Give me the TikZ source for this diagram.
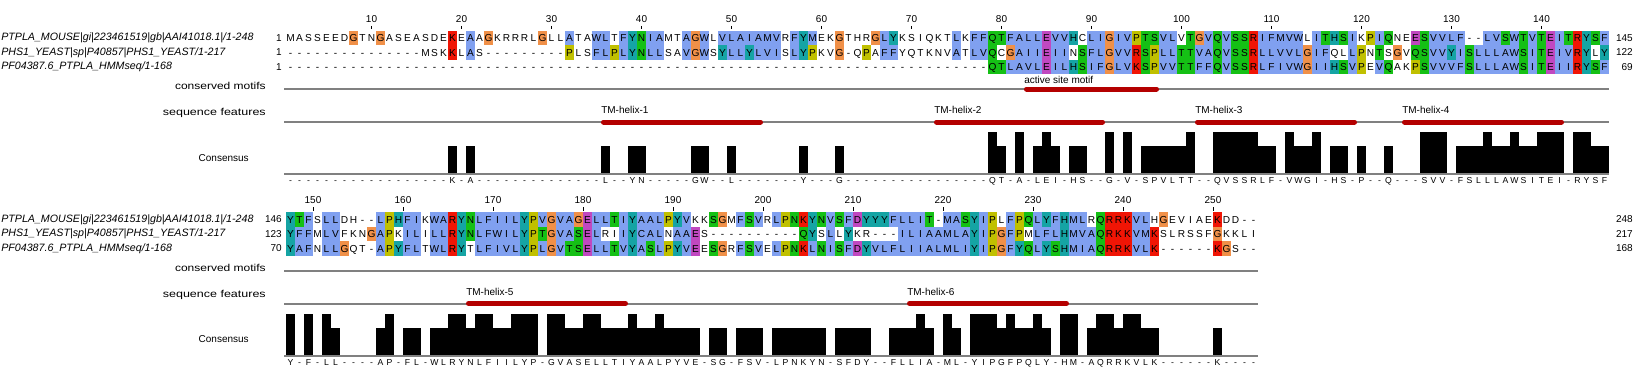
\documentclass[tikz,border=0pt]{standalone}
\usepackage{fontspec}
\usepackage{graphicx}
\setmainfont{Liberation Sans}

% clustal colours
\definecolor{clBlue}{HTML}{80A0F0}
\definecolor{clRed}{HTML}{F01505}
\definecolor{clGreen}{HTML}{15C015}
\definecolor{clMagenta}{HTML}{C048C0}
\definecolor{clOrange}{HTML}{F09048}
\definecolor{clYellow}{HTML}{C0C000}
\definecolor{clCyan}{HTML}{15A4A4}
\definecolor{featRed}{HTML}{B40000}
\definecolor{axisGray}{HTML}{808080}
\colorlet{resA}{clBlue}\colorlet{resC}{clBlue}\colorlet{resF}{clBlue}
\colorlet{resI}{clBlue}\colorlet{resL}{clBlue}\colorlet{resM}{clBlue}
\colorlet{resV}{clBlue}\colorlet{resW}{clBlue}
\colorlet{resK}{clRed}\colorlet{resR}{clRed}
\colorlet{resD}{clMagenta}\colorlet{resE}{clMagenta}
\colorlet{resN}{clGreen}\colorlet{resQ}{clGreen}\colorlet{resS}{clGreen}\colorlet{resT}{clGreen}
\colorlet{resG}{clOrange}\colorlet{resP}{clYellow}
\colorlet{resH}{clCyan}\colorlet{resY}{clCyan}

\tikzset{track/.style={draw=axisGray, line width=1.5}}

% upper case letter = coloured cell, lower case = plain cell
\ExplSyntaxOn
\int_new:N \l_aln_col_int
\NewDocumentCommand \seqrow { m m m }
  {
    \int_zero:N \l_aln_col_int
    \tl_map_inline:nn {#3}
      {
        \str_if_eq:nnF {##1} {-}
          {
            \int_compare:nNnT {`##1} < {`a}
              { \fill[res##1]~(286+9*\int_use:N \l_aln_col_int,#2-7.15)~rectangle~++(9,14.3); }
          }
        \node[res]~(#1-\int_use:N \l_aln_col_int)~at~(290.5+9*\int_use:N \l_aln_col_int,#2+3.6)~{\text_uppercase:n {##1}};
        \int_incr:N \l_aln_col_int
      }
  }
% upper case = full bar, lower case = 2/3 bar
\NewDocumentCommand \consrow { m m m }
  {
    \int_zero:N \l_aln_col_int
    \tl_map_inline:nn {#3}
      {
        \str_if_eq:nnF {##1} {-}
          {
            \int_compare:nNnTF {`##1} < {`a}
              { \fill~(286+9*\int_use:N \l_aln_col_int,#2)~rectangle~++(9,-42); }
              { \fill~(286+9*\int_use:N \l_aln_col_int,#2)~rectangle~++(9,-28); }
          }
        \node[cons]~(#1-\int_use:N \l_aln_col_int)~at~(290.5+9*\int_use:N \l_aln_col_int,#2+9.5)~{\text_uppercase:n {##1}};
        \int_incr:N \l_aln_col_int
      }
  }
\ExplSyntaxOff

\begin{document}
\begin{tikzpicture}[x=0.75pt, y=-0.75pt]
\tikzstyle{res} = [inner sep=0pt, anchor=base, font=\fontsize{7.6}{9}\selectfont]
\tikzstyle{cons} = [inner sep=0pt, anchor=base, font=\fontsize{6.5}{7}\selectfont]
\tikzstyle{seqname} = [inner sep=0pt, anchor=west, font=\fontsize{8}{9}\selectfont\itshape]
\tikzstyle{num} = [inner sep=0pt, font=\fontsize{7.5}{9}\selectfont]
\tikzstyle{annot} = [inner sep=0pt, anchor=east, font=\fontsize{7.5}{9}\selectfont]
\tikzstyle{feat} = [inner sep=0pt, anchor=west, font=\fontsize{7.5}{9}\selectfont]
\tikzstyle{bar} = [draw=featRed, line width=3.75, line cap=round]

\useasboundingbox[fill=white] (0,0) rectangle (1646,368);

% ---------- block 1 ----------
\foreach \n in {10,20,...,140}{
  \node[num] (tick\n) at ({290.5+9*(\n-1)},19) {\n};
  \draw (tick\n.south) ++(0,3) -- ++(0,3.5);
}

\node[seqname] (name11) at (1,38) {PTPLA\_MOUSE|gi|223461519|gb|AAI41018.1|/1-248};
\node[seqname] (name12) at (1,52.5) {PHS1\_YEAST|sp|P40857|PHS1\_YEAST/1-217};
\node[seqname] (name13) at (1,67) {PF04387.6\_PTPLA\_HMMseq/1-168};
\node[num, anchor=east] (first11) at (282,38) {1};
\node[num, anchor=east] (first12) at (282,52.5) {1};
\node[num, anchor=east] (first13) at (282,67) {1};

\seqrow{a1}{38}{masseedGtn GaseasdeKe AaGkrrrlGl lAtaWLtFYN IAmtAGWlVL AIAMVrFYMe
  kGthrGLYks iqktLkFFQT FALLEVVHcL IGIVPTSVLv TGVQVSSRIF MVWlITHSIk PIQneESVVL
  F--LVSWTVT EITRYSF}
\seqrow{a2}{52.5}{---------- -----mskKl As-------- -PlsFLPLYN LLsaVGWsYL LYLVIsLYPk
  vG-qPaFFyq tknvAtLVQc GAIIEIInSF LGVVRSPLLT TVAQVSSRLL VVLGIFqlLP nTsGvQSVVY
  ISLLLAWSIT EIVRYlY}
\seqrow{a3}{67}{---------- ---------- ---------- ---------- ---------- ----------
  ---------- --------QT LAVLEILHSI FGLVKSPVVT TFFQVSSRLF IVWGIIHSVP eVQakPSVVV
  FSLLLAWSIT EIIRYSF}

\node[num, anchor=east] (last11) at (1633,38) {145};
\node[num, anchor=east] (last12) at (1633,52.5) {122};
\node[num, anchor=east] (last13) at (1633,67) {69};

% annotation rows
\node[annot] (motif1) at (266,86) {\scalebox{1.2}[1]{conserved motifs}};
\draw[track] (284,89) -- (1609,89);
\draw[bar] (1026.5,89) -- (1156.5,89);
\node[feat] (site1) at (1024,80) {active site motif};

\node[annot] (feat1) at (266,113) {\scalebox{1.25}[1]{sequence features}};
\draw[track] (284,122) -- (1609,122);
\foreach \a/\b/\t in {601/763/1, 934/1105/2, 1195/1357/3, 1402/1564/4}{
  \draw[bar] (\a+2.5,122) -- (\b-2.5,122);
  \node[feat] (tm\t) at (\a,110) {TM-helix-\t};
}

\node[annot] (cons1) at (249,158) {Consensus};
\consrow{k1}{174}{---------- --------k- a--------- -----l--yn -----gw--l -------y--
  -g-------- --------Qt -A-lEi-hs- -G-V-spvlt T--QVSSRlf -VwgI-hs-p --q---SVV-
  fslLlaWsiT EI-RYsf}
\draw[track] (284,174) -- (1609,174);

% ---------- block 2 ----------
\foreach \n in {150,160,...,250}{
  \node[num] (tick\n) at ({295+9*(\n-148)},200.5) {\n};
  \draw (tick\n.south) ++(0,3) -- ++(0,3.5);
}

\node[seqname] (name21) at (1,219.5) {PTPLA\_MOUSE|gi|223461519|gb|AAI41018.1|/1-248};
\node[seqname] (name22) at (1,234) {PHS1\_YEAST|sp|P40857|PHS1\_YEAST/1-217};
\node[seqname] (name23) at (1,248.5) {PF04387.6\_PTPLA\_HMMseq/1-168};
\node[num, anchor=east] (first21) at (282,219.5) {146};
\node[num, anchor=east] (first22) at (282,234) {123};
\node[num, anchor=east] (first23) at (282,248.5) {70};

\seqrow{b1}{219.5}{YTFsLLdh-- LPHFIkWARY NLFIILYPVG VAGELLTIYA ALPYVkkSGm FSVrLPNKYN
  VSFDYYYFLL IT-MASYIPl FPQLYFHMLr QRRKVLhGev iaeKdd--}
\seqrow{b2}{234}{YFFmLVfknG APkILiLLRY NLFWILYPTG VASELriIYC ALnAAEs--- -------QYs
  LlYkr---IL IAAMLAYIPG FPmLFLHMVA QRKKVMKslr ssfGkkli}
\seqrow{b3}{248.5}{YAFnLLGqt- APYFLtWLRY tLFIVLYPLG VTSELLTVYA SLPYVEeSGr FSVeLPNKLN
  ISFDYVLFLI IALMLIYIPG FYQLYSHMIA QRRKVLK--- ---KGs--}

\node[num, anchor=east] (last21) at (1633,219.5) {248};
\node[num, anchor=east] (last22) at (1633,234) {217};
\node[num, anchor=east] (last23) at (1633,248.5) {168};

% annotation rows
\node[annot] (motif2) at (266,267.5) {\scalebox{1.2}[1]{conserved motifs}};
\draw[track] (284,270.5) -- (1258,270.5);

\node[annot] (feat2) at (266,294.5) {\scalebox{1.25}[1]{sequence features}};
\draw[track] (284,303.5) -- (1258,303.5);
\foreach \a/\b/\t in {466/628/5, 907/1069/6}{
  \draw[bar] (\a+2.5,303.5) -- (\b-2.5,303.5);
  \node[feat] (tm\t) at (\a,291.5) {TM-helix-\t};
}

\node[annot] (cons2) at (249,339.5) {Consensus};
\consrow{k2}{355.5}{Y-F-Ll---- aP-fl-wlRY nLFiiLYP-G VasELltiYa aLpyve-sg- fsv-lpnkyn
  -sfdy--fll Ia-Ml-YIPg FpqLy-HM-a QRrKVlk--- ---k----}
\draw[track] (284,355.5) -- (1258,355.5);

\end{tikzpicture}
\end{document}
